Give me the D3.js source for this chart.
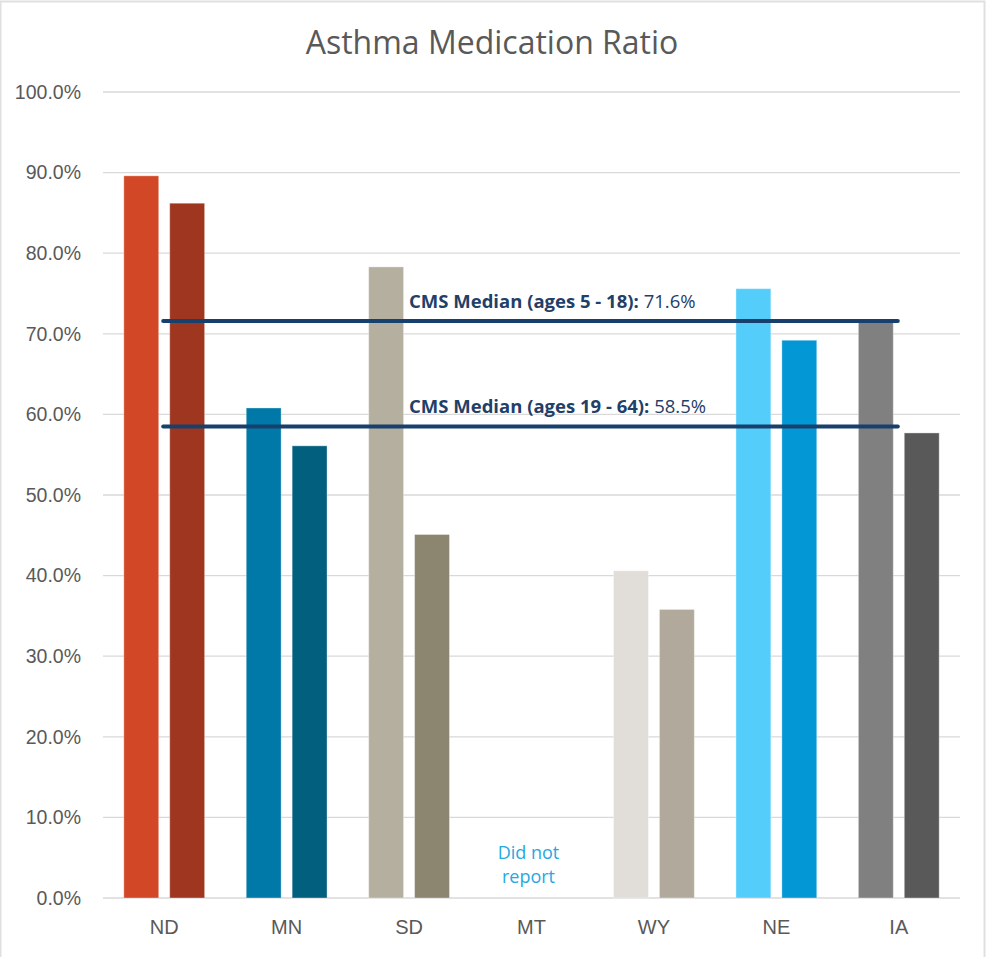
<!DOCTYPE html>
<html>
<head>
<meta charset="utf-8">
<script src="https://cdn.jsdelivr.net/npm/d3@7"></script>
<style>
	html, body { margin: 0; padding: 0; background: #fff; }
	svg { display: block; font-family: "Segoe UI", "Open Sans", "Noto Sans", sans-serif; }
</style>
</head>
<body>
<svg id="chart" width="986" height="957"></svg>
<script>
	// --- data ---
	const states = ["ND", "MN", "SD", "MT", "WY", "NE", "IA"];
	const ages5to18 = [89.6, 60.8, 78.3, null, 40.6, 75.6, 71.6];
	const ages19to64 = [86.2, 56.1, 45.1, null, 35.8, 69.2, 57.7];
	const colors5to18 = ["#D24726", "#0079A8", "#B5AFA0", "#000", "#E1DED9", "#55CDFB", "#808080"];
	const colors19to64 = ["#9E3620", "#035F7E", "#8C8570", "#000", "#B0A99C", "#0397D5", "#595959"];
	const medians = [
		{ label: "CMS Median (ages 5 - 18):", value: 71.6 },
		{ label: "CMS Median (ages 19 - 64):", value: 58.5 }
	];
	const yTicks = [0, 10, 20, 30, 40, 50, 60, 70, 80, 90, 100];
	const noReport = ["Did not", "report"];

	const W = 986, H = 957;
	const m = { top: 92, right: 26, bottom: 59, left: 103 };
	const iw = W - m.left - m.right;
	const ih = H - m.top - m.bottom;

	const svg = d3.select("#chart");

	// chart border
	svg.append("rect")
		.attr("x", 0.5).attr("y", 1.5).attr("width", W - 2).attr("height", H + 10)
		.attr("fill", "none").attr("stroke", "#e0e0e0").attr("stroke-width", 2);

	svg.append("text")
		.attr("x", 492).attr("y", 54)
		.attr("text-anchor", "middle").attr("font-size", "32px").attr("fill", "#595959")
		.text("Asthma Medication Ratio");

	const g = svg.append("g").attr("transform", `translate(${m.left}, ${m.top})`);

	const x0 = d3.scaleBand().domain(states).range([0, iw]).paddingInner(0.34).paddingOuter(0.17);
	const x1 = d3.scaleBand().domain([0, 1]).range([0, x0.bandwidth()]).paddingInner(0.24);
	const y = d3.scaleLinear().domain([0, 100]).range([ih, 0]);

	// gridlines
	g.append("g")
		.selectAll("line")
		.data(yTicks)
		.join("line")
		.attr("x1", 0).attr("x2", iw)
		.attr("y1", d => y(d)).attr("y2", d => y(d))
		.attr("stroke", "#d9d9d9").attr("stroke-width", 1.3);

	// y axis labels
	const yAxis = g.append("g")
		.call(d3.axisLeft(y).tickValues(yTicks).tickFormat(d => d.toFixed(1) + "%").tickSize(0).tickPadding(22));
	yAxis.select(".domain").remove();
	yAxis.selectAll("text").attr("font-size", "19.5px").attr("fill", "#595959").attr("font-family", null);

	// x axis labels
	const xAxis = g.append("g")
		.attr("transform", `translate(0, ${ih})`)
		.call(d3.axisBottom(x0).tickSize(0).tickPadding(22));
	xAxis.select(".domain").remove();
	xAxis.selectAll("text").attr("font-size", "20px").attr("fill", "#595959").attr("font-family", null);

	// bars
	const rows = states.map((s, i) => ({
		state: s,
		vals: [
			{ k: 0, v: ages5to18[i], c: colors5to18[i] },
			{ k: 1, v: ages19to64[i], c: colors19to64[i] }
		]
	}));

	g.append("g")
		.selectAll("g")
		.data(rows)
		.join("g")
		.attr("transform", d => `translate(${x0(d.state)}, 0)`)
		.selectAll("rect")
		.data(d => d.vals.filter(e => e.v != null))
		.join("rect")
		.attr("x", d => x1(d.k))
		.attr("width", x1.bandwidth())
		.attr("y", d => y(d.v))
		.attr("height", d => ih - y(d.v))
		.attr("fill", d => d.c)
		.attr("stroke", "rgba(255,255,255,0.35)")
		.attr("stroke-width", 1);

	// "Did not report"
	const mtX = x0("MT") + x0.bandwidth() / 2 - 3;
	g.append("text")
		.attr("x", mtX).attr("y", y(0) - 39)
		.attr("text-anchor", "middle").attr("font-size", "18px").attr("fill", "#26A8E0")
		.selectAll("tspan")
		.data(noReport)
		.join("tspan")
		.attr("x", mtX)
		.attr("dy", (d, i) => i === 0 ? 0 : 24)
		.text(d => d);

	// median lines
	const lx1 = x0("ND") + x0.bandwidth() / 2 - 1;
	const lx2 = x0("IA") + x0.bandwidth() / 2 - 1;
	const mg = g.append("g");
	mg.selectAll("line")
		.data(medians)
		.join("line")
		.attr("x1", lx1).attr("x2", lx2)
		.attr("y1", d => y(d.value)).attr("y2", d => y(d.value))
		.attr("stroke", "#17406D").attr("stroke-width", 4).attr("stroke-linecap", "round");

	const labels = mg.selectAll("text")
		.data(medians)
		.join("text")
		.attr("x", x0("SD") + x0.bandwidth() / 2)
		.attr("y", d => y(d.value) - 13)
		.attr("font-size", "18.5px").attr("fill", "#1F4068");
	labels.append("tspan").attr("font-weight", "bold").text(d => d.label);
	labels.append("tspan").text(d => " " + d.value.toFixed(1) + "%");
</script>
</body>
</html>
